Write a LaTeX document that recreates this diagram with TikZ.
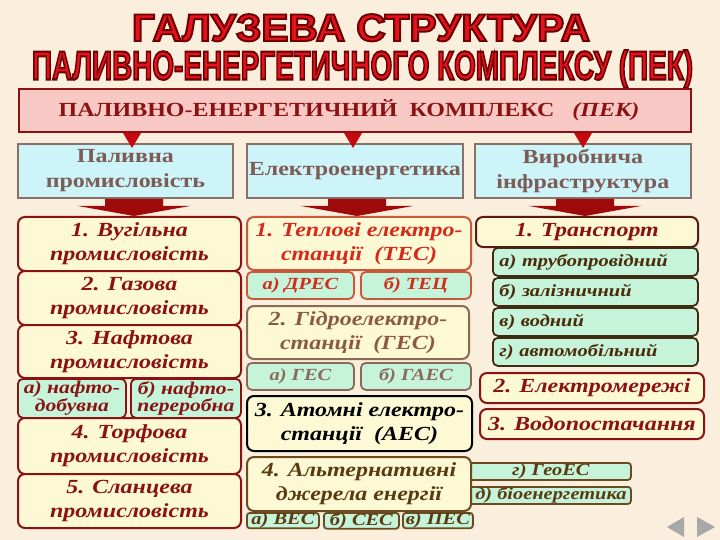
\documentclass[tikz,border=0pt]{standalone}
\usepackage{fontspec}
\setmainfont{Liberation Serif}[FakeStretch=1.2]
\newfontfamily\ttlfont{Liberation Sans Bold}[FakeBold=5]
\usetikzlibrary{calc}
\definecolor{bg}{HTML}{F9EFDC}
\definecolor{ttlr}{HTML}{E4121C}
\definecolor{ttlo}{HTML}{6A0000}
\definecolor{hdrf}{HTML}{F8C8C4}
\definecolor{dred}{HTML}{8B1212}
\definecolor{catf}{HTML}{CDF4F8}
\definecolor{catb}{HTML}{8A7068}
\definecolor{catt}{HTML}{7C5C56}
\definecolor{itemf}{HTML}{FDF9D4}
\definecolor{grnf}{HTML}{C6F4DA}
\definecolor{tecb}{HTML}{C8583A}
\definecolor{tect}{HTML}{D42A1A}
\definecolor{gesb}{HTML}{8A6A55}
\definecolor{gest}{HTML}{8B5A45}
\definecolor{gesg}{HTML}{8A6A5C}
\definecolor{altb}{HTML}{6A4A1E}
\definecolor{altt}{HTML}{5A3A10}
\definecolor{trb}{HTML}{5A1A14}
\definecolor{grt}{HTML}{4A2A0A}
\definecolor{grb}{HTML}{3E2C12}
\definecolor{bigar}{HTML}{9E0A0A}
\definecolor{smar}{HTML}{C40A10}
\definecolor{navg}{HTML}{A8A8A8}
\newcommand\outl[1]{{\color{ttlr}\special{pdf:code 0.42 0 0 RG}#1}}
\newcommand\bx[7][]{\node[#2,anchor=north west,minimum width={#5-#3},minimum height={#6-#4},#1] (#7) at (#3,#4)}
\tikzset{
 base/.style={inner sep=0pt,align=center},
 hdrbox/.style={base,draw=dred,fill=hdrf,line width=2pt,text=dred,font=\fontsize{20}{24}\selectfont\bfseries},
 catbox/.style={base,draw=catb,fill=catf,line width=1.8pt,text=catt,font=\fontsize{20}{25}\selectfont\bfseries},
 item/.style={base,rounded corners=7pt,fill=itemf,line width=2pt,font=\fontsize{20}{24}\selectfont\bfseries\itshape},
 litem/.style={item,draw=dred,text=dred},
 grn/.style={base,rounded corners=5pt,fill=grnf,line width=1.8pt,font=\fontsize{17}{18}\selectfont\bfseries\itshape},
 lgrn/.style={grn,draw=dred,text=dred,font=\fontsize{18}{17.5}\selectfont\bfseries\itshape},
 ritem/.style={item,draw=trb,text=dred,font=\fontsize{20}{24}\selectfont\bfseries\itshape},
 rgrn/.style={grn,draw=grb,text=grt,align=left,font=\fontsize{17}{18}\selectfont\bfseries\itshape},
}
\begin{document}
\begin{tikzpicture}[x=1pt,y=-1pt]
\useasboundingbox (0,0) rectangle (720,540);
\fill[bg] (0,0) rectangle (720,540);
% titles
\node[anchor=base,inner sep=0pt,font=\ttlfont] (t1) at (361,41)
 {\resizebox{458pt}{\height}{\fontsize{38.5}{40}\selectfont\outl{ГАЛУЗЕВА СТРУКТУРА}}};
\node[anchor=base,inner sep=0pt,font=\ttlfont] (t2) at (362.5,79.5)
 {\resizebox{661pt}{\height}{\fontsize{40.5}{42}\selectfont\outl{ПАЛИВНО-ЕНЕРГЕТИЧНОГО КОМПЛЕКСУ (ПЕК)}}};
% header
\bx{hdrbox}{18}{88}{690}{131}{hdr} {ПАЛИВНО-ЕНЕРГЕТИЧНИЙ\ \ КОМПЛЕКС\ \ \ \textit{(ПЕК)}\hspace*{12pt}};
% categories
\bx{catbox}{17}{143}{232}{197}{cL} {Паливна\\промисловість};
\bx{catbox}{246}{143}{462}{197}{cM} {Електроенергетика};
\bx{catbox}{474}{143}{690}{197}{cR} {Виробнича\\інфраструктура};
% left column
\bx{litem}{17}{216}{240}{270}{L1} {1. Вугільна\\промисловість};
\bx{litem}{17}{270}{240}{324}{L2} {2. Газова\\промисловість};
\bx{litem}{17}{324}{240}{377}{L3} {3. Нафтова\\промисловість};
\bx{lgrn}{17}{378}{125}{417}{La} {а) нафто-\\добувна};
\bx{lgrn}{130}{378}{240}{417}{Lb} {б) нафто-\\переробна};
\bx{litem}{17}{417}{240}{473}{L4} {4. Торфова\\промисловість};
\bx{litem}{17}{473}{240}{527}{L5} {5. Сланцева\\промисловість};
% middle column
\bx[draw=tecb,text=tect]{item}{246}{216}{470}{269}{M1} {1. Теплові електро-\\станції\ \ (ТЕС)};
\bx[draw=tecb,text=tect]{grn}{246}{271}{353}{298}{Ma} {а) ДРЕС};
\bx[draw=tecb,text=tect]{grn}{360}{271}{470}{298}{Mb} {б) ТЕЦ};
\bx[draw=gesb,text=gest]{item}{246}{305}{468}{358}{M2} {2. Гідроелектро-\\станції\ \ (ГЕС)};
\bx[draw=gesb,text=gesg]{grn}{246}{362}{353}{389}{Mc} {а) ГЕС};
\bx[draw=gesb,text=gesg]{grn}{360}{362}{470}{389}{Md} {б) ГАЕС};
\bx[draw=black,text=black]{item}{246}{395}{471}{450}{M3} {3. Атомні електро-\\станції\ \ (АЕС)};
\bx[draw=altb,text=altt,rounded corners=3pt]{grn}{462}{462}{630}{479}{Geo} {\hspace*{8pt}г) ГеоЕС};
\bx[draw=altb,text=altt,rounded corners=3pt]{grn}{462}{486}{630}{503}{Bio} {\hspace*{8pt}д) біоенергетика};
\bx[draw=altb,text=altt]{item}{246}{456}{470}{510}{M4} {4. Альтернативні\\джерела енергії};
\bx[draw=altb,text=altt,rounded corners=3pt]{grn}{246}{512}{318}{527}{Ve} {а) ВЕС};
\bx[draw=altb,text=altt,rounded corners=3pt]{grn}{323}{512}{398}{527}{Se} {б) СЕС};
\bx[draw=altb,text=altt,rounded corners=3pt]{grn}{402}{512}{472}{527}{Pe} {в) ПЕС};
% right column
\bx{ritem}{475}{216}{697}{246}{R1} {1. Транспорт};
\bx[text width=192pt]{rgrn}{492}{247}{697}{275}{Ra} {а) трубопровідний};
\bx[text width=192pt]{rgrn}{492}{277}{697}{305}{Rb} {б) залізничний};
\bx[text width=192pt]{rgrn}{492}{307}{697}{335}{Rc} {в) водний};
\bx[text width=192pt]{rgrn}{492}{337}{697}{365}{Rd} {г) автомобільний};
\bx[draw=dred]{ritem}{479}{372}{703}{402}{R2} {2. Електромережі};
\bx[draw=dred]{ritem}{479}{408}{703}{438}{R3} {3. Водопостачання};
% small arrows header -> categories
\coordinate (sL) at (132,148);
\coordinate (sM) at (353,148);
\coordinate (sR) at (583,148);
\foreach \c in {sL,sM,sR}
 \fill[smar] (hdr.south -| \c) ++(-9,0) -- ++(18,0) -- (\c) -- cycle;
% big arrows categories -> items
\coordinate (aL) at (134,216);
\coordinate (aM) at (357,216);
\coordinate (aR) at (585,216);
\foreach \c/\s in {aL/cL,aM/cM,aR/cR}
 \fill[bigar] (\s.south -| \c) ++(-29,0) -- ++(58,0) -- ++(0,7) -- ++(28,0) -- (\c)
   -- ($(\s.south -| \c)+(-57,7)$) -- ++(28,0) -- cycle;
% navigation
\fill[navg] (667,527) -- (684,517) -- (684,537) -- cycle;
\fill[navg] (715,527) -- (697,517) -- (697,537) -- cycle;
\end{tikzpicture}
\end{document}
